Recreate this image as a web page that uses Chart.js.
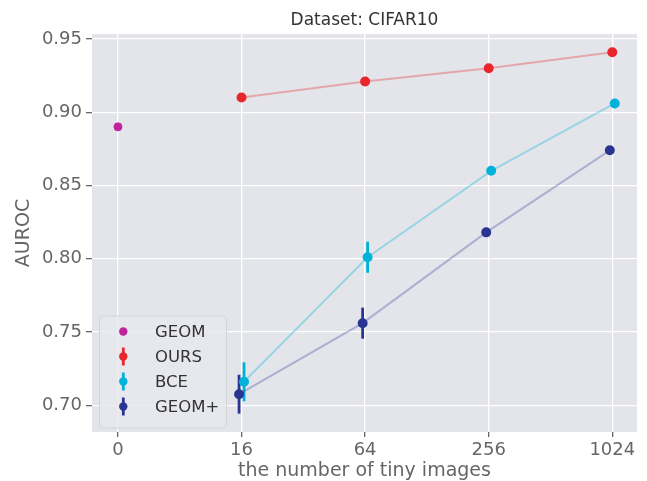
<!DOCTYPE html>
<html>
<head>
<meta charset="utf-8">
<script src="https://cdn.jsdelivr.net/npm/chart.js@4.4.1/dist/chart.umd.min.js"></script>
<style>
  html, body { margin: 0; padding: 0; background: #ffffff; }
  #wrap { width: 647px; height: 481px; position: relative; }
</style>
</head>
<body>
<div id="wrap"><canvas id="c"></canvas></div>
<script>
// ---- data ----
const xTickLabels = ['0', '16', '64', '256', '1024'];
const xTickPositions = [0, 1, 2, 3, 4];
const yTickValues = [0.70, 0.75, 0.80, 0.85, 0.90, 0.95];

const geomX = [0];
const geomY = [0.890];

const seriesX = [1, 2, 3, 4];
const oursY = [0.910, 0.921, 0.930, 0.941];
const oursErr = [0.003, 0.0012, 0.0012, 0.0012];
const bceY = [0.716, 0.801, 0.860, 0.906];
const bceErr = [0.0133, 0.0106, 0.001, 0.001];
const geomPlusY = [0.7075, 0.756, 0.818, 0.874];
const geomPlusErr = [0.0133, 0.0106, 0.001, 0.001];

const bceShift = 0.02;
const geomPlusShift = -0.02;

const FONT = '"DejaVu Sans", "Liberation Sans", sans-serif';

function pts(xs, ys, shift, errs) {
  return xs.map((x, i) => ({ x: x + shift, y: ys[i], err: errs ? errs[i] : 0 }));
}

const colors = {
  geom: '#c0249c',
  ours: '#e8262b',
  bce: '#00b2d9',
  geomPlus: '#2a3592'
};

const datasets = [
  {
    label: 'GEOM', data: pts(geomX, geomY, 0, null), showLine: false,
    pointBackgroundColor: colors.geom, pointBorderColor: colors.geom,
    pointRadius: 4, order: 4, errColor: colors.geom, legendErr: false
  },
  {
    label: 'OURS', data: pts(seriesX, oursY, 0, oursErr), showLine: true,
    borderColor: 'rgba(232,38,43,0.33)', borderWidth: 2,
    pointBackgroundColor: colors.ours, pointBorderColor: colors.ours,
    pointRadius: 4, order: 3, errColor: colors.ours, legendErr: true
  },
  {
    label: 'BCE', data: pts(seriesX, bceY, bceShift, bceErr), showLine: true,
    borderColor: 'rgba(0,178,217,0.33)', borderWidth: 2,
    pointBackgroundColor: colors.bce, pointBorderColor: colors.bce,
    pointRadius: 4, order: 2, errColor: colors.bce, legendErr: true
  },
  {
    label: 'GEOM+', data: pts(seriesX, geomPlusY, geomPlusShift, geomPlusErr), showLine: true,
    borderColor: 'rgba(42,53,146,0.3)', borderWidth: 2,
    pointBackgroundColor: colors.geomPlus, pointBorderColor: colors.geomPlus,
    pointRadius: 4, order: 1, errColor: colors.geomPlus, legendErr: true
  }
];

const bgPlugin = {
  id: 'bgPlugin',
  beforeDraw(chart) {
    const { ctx, chartArea: a } = chart;
    ctx.save();
    ctx.fillStyle = '#e3e5ea';
    ctx.fillRect(a.left, a.top, a.right - a.left, a.bottom - a.top);
    ctx.restore();
  }
};

const errPlugin = {
  id: 'errPlugin',
  beforeDatasetsDraw(chart) {
    const { ctx } = chart;
    const xs = chart.scales.x, ys = chart.scales.y;
    ctx.save();
    ctx.lineWidth = 2.8;
    chart.data.datasets.forEach(ds => {
      ctx.strokeStyle = ds.errColor;
      ds.data.forEach(p => {
        if (!p.err) return;
        const px = xs.getPixelForValue(p.x);
        ctx.beginPath();
        ctx.moveTo(px, ys.getPixelForValue(p.y - p.err));
        ctx.lineTo(px, ys.getPixelForValue(p.y + p.err));
        ctx.stroke();
      });
    });
    ctx.restore();
  }
};

const titlePlugin = {
  id: 'titlePlugin',
  afterDraw(chart) {
    const { ctx, chartArea: a } = chart;
    ctx.save();
    ctx.font = '17px ' + FONT;
    ctx.fillStyle = '#333333';
    ctx.textAlign = 'center';
    ctx.textBaseline = 'alphabetic';
    ctx.fillText('Dataset: CIFAR10', (a.left + a.right) / 2, 25);
    ctx.restore();
  }
};

const legendPlugin = {
  id: 'legendPlugin',
  afterDraw(chart) {
    const { ctx } = chart;
    const bx = 99.5, by = 316, bw = 127, bh = 112;
    ctx.save();
    ctx.beginPath();
    ctx.roundRect(bx, by, bw, bh, 4);
    ctx.fillStyle = 'rgba(232,233,237,0.85)';
    ctx.fill();
    ctx.strokeStyle = '#d3d4d8';
    ctx.lineWidth = 1;
    ctx.stroke();
    ctx.font = '16.5px ' + FONT;
    ctx.textAlign = 'left';
    ctx.textBaseline = 'middle';
    chart.data.datasets.forEach((ds, i) => {
      const cy = 331.5 + i * 25;
      const mx = 123.3;
      if (ds.legendErr) {
        ctx.strokeStyle = ds.errColor;
        ctx.lineWidth = 2.8;
        ctx.beginPath();
        ctx.moveTo(mx, cy - 9);
        ctx.lineTo(mx, cy + 9);
        ctx.stroke();
      }
      ctx.fillStyle = ds.errColor;
      ctx.beginPath();
      ctx.arc(mx, cy, 4.2, 0, Math.PI * 2);
      ctx.fill();
      ctx.fillStyle = '#333333';
      ctx.fillText(ds.label, 155, cy + 1);
    });
    ctx.restore();
  }
};

new Chart(document.getElementById('c'), {
  type: 'scatter',
  data: { datasets },
  options: {
    responsive: true,
    maintainAspectRatio: false,
    animation: false,
    layout: { padding: { top: 34, right: 10, bottom: 0, left: 0 } },
    plugins: { legend: { display: false }, tooltip: { enabled: false }, title: { display: false } },
    elements: { line: { tension: 0 }, point: { borderWidth: 1 } },
    scales: {
      x: {
        type: 'linear',
        min: -0.21, max: 4.2,
        afterBuildTicks(scale) { scale.ticks = xTickPositions.map(v => ({ value: v })); },
        afterFit(scale) { scale.height = 49; },
        border: { display: false },
        grid: { color: '#ffffff', lineWidth: 1.3, tickColor: '#666666', tickLength: 5, drawTicks: true },
        ticks: {
          callback: (v) => xTickLabels[xTickPositions.indexOf(v)],
          font: { family: FONT, size: 18 }, color: '#666666', padding: 3, maxRotation: 0
        },
        title: {
          display: true, text: 'the number of tiny images',
          font: { family: FONT, size: 19, lineHeight: 1 }, color: '#666666',
          padding: { top: 0, bottom: 0 }
        }
      },
      y: {
        type: 'linear',
        min: 0.6817, max: 0.9534,
        afterBuildTicks(scale) { scale.ticks = yTickValues.map(v => ({ value: v })); },
        afterFit(scale) { scale.width = 92; },
        border: { display: false },
        grid: { color: '#ffffff', lineWidth: 1.3, tickColor: '#666666', tickLength: 6, drawTicks: true },
        ticks: {
          callback: (v) => v.toFixed(2),
          font: { family: FONT, size: 18 }, color: '#666666', padding: 4
        },
        title: {
          display: true, text: 'AUROC',
          font: { family: FONT, size: 19, lineHeight: 1 }, color: '#666666',
          padding: { top: 15, bottom: 0 }
        }
      }
    }
  },
  plugins: [bgPlugin, errPlugin, titlePlugin, legendPlugin]
});
</script>
</body>
</html>
